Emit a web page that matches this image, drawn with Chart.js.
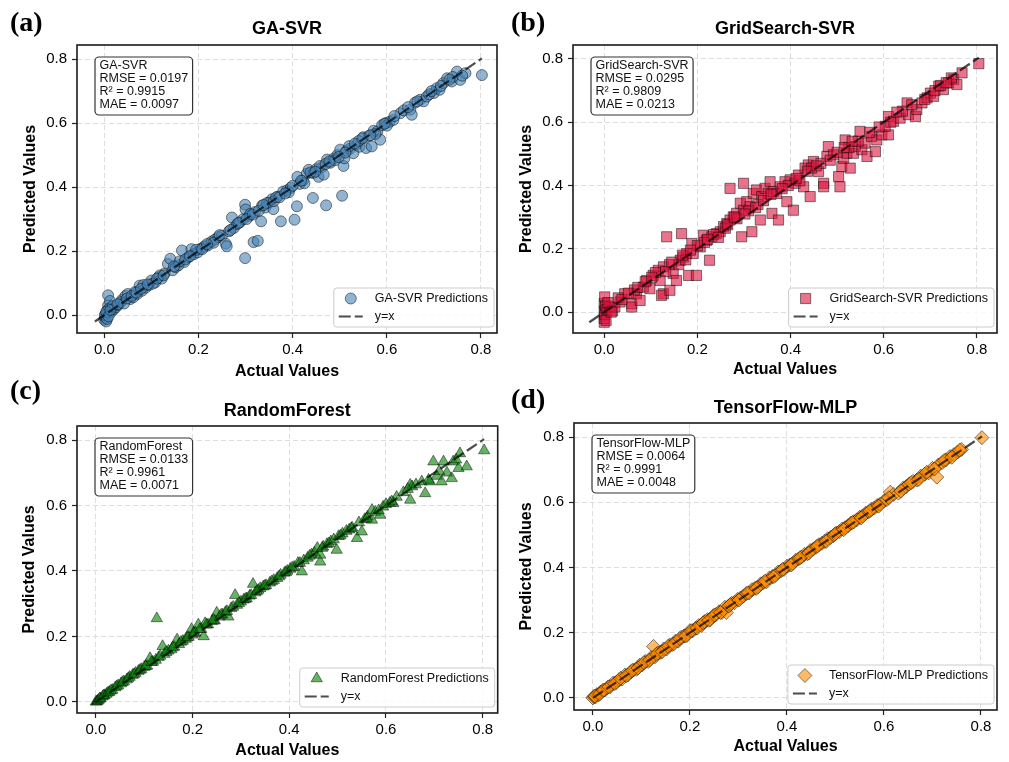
<!DOCTYPE html>
<html>
<head>
<meta charset="utf-8">
<script src="https://cdn.jsdelivr.net/npm/chart.js@4.4.1/dist/chart.umd.min.js"></script>
<style>
  body { margin: 0; background: #fff; }
  #wrap { position: relative; width: 1009px; height: 762px; overflow: hidden; }
  canvas { position: absolute; }
  .tag { position: absolute; font: bold 28px "Liberation Serif", "Times New Roman", serif; line-height: 28px; color: #000; }
</style>
</head>
<body>
<div id="wrap">
  <canvas id="c0" width="505" height="381" style="left:0;top:0"></canvas>
  <canvas id="c1" width="504" height="381" style="left:505px;top:0"></canvas>
  <canvas id="c2" width="505" height="381" style="left:0;top:381px"></canvas>
  <canvas id="c3" width="504" height="381" style="left:505px;top:381px"></canvas>
  <div class="tag" style="left:10px;top:8px">(a)</div>
  <div class="tag" style="left:511px;top:8px">(b)</div>
  <div class="tag" style="left:10px;top:376px">(c)</div>
  <div class="tag" style="left:511px;top:385px">(d)</div>
</div>
<script>
// model names + metrics shown in the boxes
var models = ["GA-SVR", "GridSearch-SVR", "RandomForest", "TensorFlow-MLP"];
var rmse = ["0.0197", "0.0295", "0.0133", "0.0064"];
var r2 = ["0.9915", "0.9809", "0.9961", "0.9991"];
var mae = ["0.0097", "0.0213", "0.0071", "0.0048"];

var tickValues = [0, 0.2, 0.4, 0.6, 0.8];
var tickLabels = ["0.0", "0.2", "0.4", "0.6", "0.8"];

// GA-SVR
var gaActual = [
  0.000,0.002,0.003,0.004,0.005,0.006,0.008,0.008,0.012,0.010,
  0.015,0.020,0.024,0.030,0.038,0.045,0.050,0.055,0.062,0.070,
  0.075,0.080,0.088,0.095,0.100,0.108,0.115,0.122,0.128,0.135,
  0.140,0.145,0.152,0.158,0.165,0.170,0.178,0.185,0.190,0.198,
  0.205,0.212,0.220,0.228,0.235,0.242,0.250,0.258,0.260,0.265,
  0.271,0.275,0.282,0.288,0.295,0.299,0.300,0.299,0.308,0.317,
  0.326,0.320,0.333,0.335,0.342,0.350,0.356,0.359,0.368,0.375,
  0.380,0.388,0.396,0.404,0.409,0.410,0.415,0.422,0.430,0.434,
  0.443,0.444,0.450,0.455,0.462,0.466,0.471,0.473,0.480,0.488,
  0.495,0.501,0.505,0.508,0.510,0.515,0.522,0.529,0.535,0.542,
  0.550,0.556,0.562,0.568,0.572,0.580,0.586,0.590,0.598,0.606,
  0.614,0.629,0.636,0.650,0.653,0.660,0.671,0.678,0.685,0.700,
  0.706,0.712,0.720,0.728,0.738,0.749,0.756,0.767,0.802,
  0.001,0.006,0.018,0.035,0.042,0.065,0.083,0.103,0.118,0.160,
  0.195,0.232,0.310,0.345,0.360,0.392,0.400,0.425,0.438,0.458,
  0.470,0.490,0.520,0.540,0.576,0.600,0.616,0.690,0.740,
  0.004,0.009,0.013,0.028,0.048,0.058,0.068,0.078,0.092,0.112,
  0.126,0.148,0.172,0.182,0.208,0.218,0.245,0.268,0.285,0.302,
  0.315,0.328,0.338,0.365,0.372,0.384,0.418,0.448,0.478,0.498,
  0.512,0.532,0.548,0.565,0.595,0.645,0.665,0.695,0.715,0.733,0.760
];
var gaPred = [
  -0.015,-0.008,0.002,-0.020,0.006,0.014,0.030,0.062,0.044,0.020,
  0.010,0.018,0.024,0.032,0.048,0.060,0.066,0.050,0.056,0.066,
  0.092,0.076,0.086,0.094,0.108,0.102,0.118,0.114,0.130,0.160,
  0.176,0.140,0.150,0.156,0.202,0.166,0.180,0.206,0.190,0.196,
  0.208,0.214,0.218,0.230,0.236,0.244,0.248,0.223,0.215,0.262,
  0.305,0.272,0.284,0.290,0.300,0.345,0.330,0.178,0.310,0.228,
  0.232,0.322,0.293,0.342,0.336,0.352,0.362,0.331,0.370,0.293,
  0.386,0.390,0.398,0.298,0.340,0.432,0.410,0.420,0.442,0.454,
  0.366,0.444,0.456,0.432,0.462,0.439,0.343,0.486,0.476,0.490,
  0.500,0.517,0.373,0.466,0.490,0.514,0.520,0.506,0.532,0.526,
  0.556,0.522,0.560,0.527,0.576,0.574,0.548,0.594,0.600,0.604,
  0.610,0.631,0.640,0.642,0.626,0.664,0.673,0.668,0.683,0.694,
  0.709,0.704,0.725,0.740,0.730,0.761,0.735,0.756,0.750,
  0.000,-0.012,0.028,0.040,0.036,0.072,0.094,0.098,0.124,0.168,
  0.204,0.226,0.316,0.350,0.356,0.384,0.404,0.412,0.446,0.466,
  0.472,0.484,0.528,0.544,0.566,0.592,0.622,0.690,0.744,
  0.010,-0.004,0.016,0.034,0.052,0.060,0.070,0.082,0.096,0.114,
  0.124,0.152,0.174,0.184,0.206,0.222,0.250,0.266,0.288,0.300,
  0.314,0.326,0.344,0.368,0.368,0.380,0.420,0.448,0.480,0.494,
  0.508,0.536,0.552,0.562,0.598,0.650,0.668,0.700,0.716,0.736,0.748
];

// GridSearch-SVR
var gsActual = [
  0.000,0.000,0.001,0.000,0.002,0.000,0.001,0.003,0.004,0.006,
  0.012,0.018,0.023,0.034,0.044,0.059,0.059,0.069,0.077,0.084,
  0.091,0.098,0.105,0.116,0.120,0.127,0.134,0.166,0.127,0.123,
  0.141,0.148,0.155,0.163,0.170,0.177,0.181,0.188,0.191,0.198,
  0.206,0.213,0.220,0.226,0.231,0.241,0.249,0.256,0.263,0.270,
  0.270,0.277,0.284,0.292,0.295,0.299,0.299,0.306,0.313,0.317,
  0.320,0.327,0.335,0.338,0.345,0.352,0.356,0.360,0.363,0.374,
  0.378,0.388,0.392,0.399,0.406,0.410,0.417,0.428,0.431,0.438,
  0.442,0.449,0.460,0.471,0.471,0.478,0.481,0.492,0.503,0.506,
  0.510,0.514,0.517,0.521,0.528,0.535,0.539,0.549,0.553,0.560,
  0.564,0.574,0.582,0.585,0.596,0.610,0.603,0.610,0.621,0.635,
  0.650,0.653,0.668,0.671,0.682,0.693,0.700,0.707,0.718,0.728,
  0.739,0.750,0.757,0.768,0.804,0.030,0.065,0.110,0.140,0.160,
  0.175,0.200,0.215,0.235,0.260,0.285,0.310,0.330,0.370,0.395,
  0.420,0.445,0.465,0.500,0.525,0.545,0.590,0.640,0.660,0.710,0.745,
  0.008,0.015,0.038,0.052,0.072,0.088,0.102,0.132,0.145,0.168,
  0.185,0.222,0.245,0.265,0.280,0.302,0.325,0.342,0.358,0.382,
  0.412,0.436,0.455,0.485,0.515,0.532,0.570,0.615,0.628,0.688,
  0.722,0.734
];
var gsPred = [
  -0.032,-0.020,-0.008,0.004,0.014,0.028,0.048,0.020,-0.026,0.008,
  0.016,0.004,0.016,0.032,0.058,0.026,0.016,0.058,0.037,0.079,
  0.100,0.074,0.116,0.132,0.100,0.143,0.238,0.248,0.058,0.053,
  0.069,0.122,0.100,0.164,0.174,0.185,0.116,0.217,0.185,0.116,
  0.206,0.243,0.227,0.164,0.238,0.248,0.254,0.270,0.280,0.291,
  0.391,0.301,0.312,0.344,0.238,0.407,0.322,0.349,0.333,0.254,
  0.375,0.386,0.291,0.365,0.391,0.375,0.412,0.312,0.381,0.291,
  0.396,0.412,0.349,0.418,0.322,0.407,0.433,0.396,0.455,0.465,
  0.365,0.476,0.444,0.407,0.396,0.492,0.523,0.497,0.428,0.396,
  0.460,0.486,0.544,0.502,0.455,0.502,0.523,0.571,0.513,0.534,
  0.492,0.555,0.507,0.544,0.560,0.560,0.587,0.618,0.603,0.613,
  0.661,0.624,0.618,0.640,0.661,0.677,0.692,0.682,0.714,0.703,
  0.724,0.735,0.719,0.756,0.785,0.045,0.070,0.125,0.150,0.150,
  0.165,0.210,0.220,0.245,0.265,0.295,0.320,0.340,0.375,0.400,
  0.415,0.455,0.470,0.505,0.520,0.540,0.585,0.635,0.655,0.700,0.740,
  0.030,0.000,0.040,0.060,0.078,0.096,0.110,0.128,0.158,0.180,
  0.196,0.230,0.236,0.276,0.300,0.310,0.330,0.352,0.372,0.390,
  0.422,0.445,0.462,0.480,0.520,0.540,0.568,0.600,0.632,0.672,
  0.716,0.725
];

// RandomForest
var rfActual = [
  0.000,0.002,0.004,0.006,0.010,0.014,0.018,0.022,0.028,0.034,
  0.040,0.046,0.052,0.058,0.064,0.070,0.076,0.082,0.088,0.094,
  0.100,0.106,0.112,0.118,0.124,0.126,0.130,0.138,0.142,0.150,
  0.156,0.162,0.168,0.172,0.180,0.186,0.192,0.198,0.200,0.206,
  0.212,0.218,0.223,0.226,0.232,0.240,0.246,0.250,0.256,0.262,
  0.268,0.274,0.280,0.288,0.292,0.300,0.306,0.312,0.318,0.325,
  0.330,0.336,0.340,0.346,0.352,0.360,0.368,0.375,0.382,0.390,
  0.396,0.402,0.410,0.418,0.426,0.430,0.438,0.446,0.452,0.458,
  0.464,0.464,0.470,0.478,0.486,0.492,0.498,0.502,0.510,0.518,
  0.524,0.530,0.540,0.544,0.550,0.556,0.562,0.571,0.571,0.578,
  0.588,0.594,0.600,0.608,0.615,0.622,0.636,0.650,0.650,0.654,
  0.662,0.674,0.681,0.691,0.698,0.705,0.715,0.719,0.726,0.736,
  0.739,0.750,0.753,0.767,0.803,
  0.008,0.016,0.025,0.031,0.043,0.055,0.067,0.079,0.091,0.103,
  0.115,0.133,0.146,0.159,0.176,0.189,0.203,0.215,0.229,0.243,
  0.259,0.271,0.284,0.296,0.309,0.321,0.333,0.349,0.364,0.379,
  0.393,0.406,0.422,0.442,0.468,0.482,0.506,0.528,0.560,0.585,
  0.612,0.645,0.688,0.710,0.745
];
var rfPred = [
  0.000,0.001,0.003,0.006,0.010,0.016,0.020,0.024,0.030,0.036,
  0.044,0.050,0.056,0.062,0.068,0.076,0.082,0.088,0.094,0.100,
  0.106,0.110,0.133,0.122,0.128,0.255,0.136,0.170,0.146,0.156,
  0.160,0.168,0.190,0.176,0.186,0.192,0.198,0.222,0.205,0.212,
  0.236,0.222,0.200,0.240,0.236,0.246,0.248,0.272,0.260,0.266,
  0.274,0.260,0.286,0.326,0.296,0.306,0.312,0.316,0.324,0.360,
  0.334,0.342,0.347,0.352,0.356,0.364,0.372,0.378,0.388,0.394,
  0.400,0.406,0.412,0.424,0.398,0.432,0.440,0.450,0.456,0.470,
  0.428,0.449,0.474,0.482,0.490,0.496,0.464,0.506,0.514,0.522,
  0.526,0.532,0.500,0.548,0.520,0.558,0.566,0.586,0.556,0.580,
  0.571,0.596,0.604,0.608,0.607,0.626,0.640,0.663,0.617,0.658,
  0.664,0.673,0.637,0.673,0.734,0.690,0.673,0.734,0.700,0.683,
  0.734,0.714,0.759,0.719,0.768,
  0.010,0.019,0.028,0.034,0.047,0.060,0.072,0.084,0.097,0.109,
  0.121,0.140,0.152,0.166,0.183,0.196,0.210,0.222,0.236,0.250,
  0.266,0.277,0.290,0.301,0.314,0.326,0.338,0.354,0.368,0.383,
  0.396,0.410,0.424,0.446,0.470,0.484,0.508,0.530,0.560,0.585,
  0.612,0.650,0.678,0.705,0.740
];

// TensorFlow-MLP
var mlpActual = [
  0.000,0.002,0.005,0.008,0.012,0.016,0.020,0.025,0.030,0.036,
  0.042,0.048,0.054,0.060,0.066,0.072,0.078,0.084,0.090,0.096,
  0.102,0.108,0.114,0.120,0.125,0.128,0.134,0.140,0.146,0.152,
  0.158,0.164,0.170,0.176,0.182,0.188,0.194,0.200,0.206,0.212,
  0.218,0.224,0.230,0.236,0.242,0.248,0.254,0.260,0.266,0.272,
  0.275,0.280,0.286,0.292,0.298,0.304,0.310,0.316,0.322,0.328,
  0.334,0.340,0.346,0.352,0.358,0.364,0.370,0.376,0.382,0.388,
  0.394,0.400,0.406,0.412,0.418,0.424,0.430,0.436,0.442,0.448,
  0.454,0.460,0.466,0.472,0.478,0.484,0.490,0.496,0.502,0.508,
  0.514,0.520,0.526,0.532,0.538,0.544,0.550,0.556,0.562,0.568,
  0.574,0.580,0.586,0.592,0.600,0.606,0.613,0.620,0.630,0.640,
  0.646,0.652,0.660,0.668,0.676,0.684,0.692,0.700,0.709,0.712,
  0.720,0.728,0.736,0.744,0.752,0.760,0.802,
  0.004,0.014,0.022,0.033,0.045,0.057,0.069,0.081,0.093,0.105,
  0.117,0.131,0.143,0.155,0.167,0.179,0.191,0.203,0.215,0.227,
  0.239,0.251,0.263,0.283,0.301,0.319,0.337,0.355,0.373,0.391,
  0.409,0.427,0.445,0.463,0.481,0.499,
  0.517,0.535,0.553,0.571,0.589,0.610,0.635,0.656,0.672,0.688,
  0.704,0.724,0.740,0.756
];
var mlpPred = [
  0.000,0.004,0.003,0.010,0.010,0.018,0.022,0.024,0.032,0.035,
  0.046,0.047,0.056,0.058,0.070,0.070,0.080,0.086,0.088,0.100,
  0.102,0.112,0.112,0.124,0.158,0.126,0.138,0.140,0.150,0.150,
  0.162,0.164,0.174,0.174,0.186,0.190,0.192,0.206,0.206,0.214,
  0.222,0.222,0.234,0.240,0.240,0.252,0.256,0.264,0.262,0.278,
  0.262,0.282,0.290,0.292,0.302,0.306,0.312,0.320,0.322,0.332,
  0.336,0.340,0.350,0.354,0.356,0.368,0.372,0.376,0.386,0.390,
  0.394,0.404,0.408,0.412,0.422,0.426,0.432,0.440,0.442,0.452,
  0.456,0.462,0.470,0.474,0.480,0.488,0.492,0.498,0.506,0.510,
  0.518,0.522,0.528,0.536,0.540,0.546,0.554,0.558,0.566,0.570,
  0.578,0.582,0.590,0.594,0.604,0.608,0.631,0.624,0.628,0.644,
  0.648,0.656,0.664,0.668,0.680,0.686,0.690,0.704,0.677,0.714,
  0.722,0.730,0.740,0.746,0.754,0.762,0.798,
  0.006,0.012,0.024,0.034,0.044,0.060,0.068,0.084,0.092,0.108,
  0.116,0.134,0.142,0.158,0.166,0.182,0.190,0.206,0.214,0.230,
  0.238,0.254,0.262,0.286,0.300,0.322,0.336,0.358,0.372,0.394,
  0.408,0.430,0.444,0.466,0.480,0.502,
  0.516,0.538,0.552,0.574,0.588,0.614,0.634,0.660,0.670,0.692,
  0.702,0.728,0.738,0.760
];

// layout / style per panel
var panels = [
  { id: "c0", actual: gaActual, pred: gaPred, rgb: "70,130,180", shape: "circle", r: 5.5,
    left: 77, padRight: 8, xh: 48, titlePad: [18.7, 4.7], yTitlePad: 20.9, xTitlePad: 0,
    xr: [-0.058, 0.834], yr: [-0.056, 0.844] },
  { id: "c1", actual: gsActual, pred: gsPred, rgb: "220,20,60", shape: "rect", r: 7.2,
    left: 68, padRight: 12, xh: 48, titlePad: [18.2, 5.2], yTitlePad: 12.4, xTitlePad: 1.4,
    xr: [-0.067, 0.843], yr: [-0.066, 0.844] },
  { id: "c2", actual: rfActual, pred: rfPred, rgb: "0,128,0", shape: "triangle", r: 6.5,
    left: 77, padRight: 7, xh: 49, titlePad: [19.2, 4.2], yTitlePad: 20.4, xTitlePad: 1.4,
    xr: [-0.039, 0.831], yr: [-0.034, 0.843] },
  { id: "c3", actual: mlpActual, pred: mlpPred, rgb: "255,140,0", shape: "rectRot", r: 7,
    left: 69, padRight: 12, xh: 52, titlePad: [16.2, 4.2], yTitlePad: 12.4, xTitlePad: 5.4,
    xr: [-0.039, 0.833], yr: [-0.037, 0.843] }
];

var FONT = '"Liberation Sans", Arial, Helvetica, sans-serif';
Chart.defaults.font.family = FONT;
Chart.defaults.color = "#000";

// frame, metrics box and legend drawn inside the plot area
var extras = {
  id: "extras",
  afterDatasetsDraw: function (chart, args, o) {
    var ctx = chart.ctx, a = chart.chartArea;
    ctx.save();
    ctx.strokeStyle = "#1a1a1a";
    ctx.lineWidth = 1.6;
    ctx.strokeRect(a.left, a.top, a.right - a.left, a.bottom - a.top);

    ctx.font = "12.5px " + FONT;
    ctx.textBaseline = "middle";
    ctx.textAlign = "left";
    var w = 0;
    o.stats.forEach(function (l) { w = Math.max(w, ctx.measureText(l).width); });
    var bx = a.left + 18, by = a.top + 12, bw = w + 9, bh = o.stats.length * 13 + 6;
    ctx.beginPath();
    ctx.roundRect(bx, by, bw, bh, 4);
    ctx.fillStyle = "rgba(255,255,255,0.85)";
    ctx.fill();
    ctx.strokeStyle = "#333";
    ctx.lineWidth = 1.2;
    ctx.stroke();
    ctx.fillStyle = "#111";
    o.stats.forEach(function (l, i) { ctx.fillText(l, bx + 4.5, by + 8.5 + i * 13); });

    var lw = ctx.measureText(o.label).width;
    var lbw = 41 + lw + 6, lbh = 39;
    var lx = a.right - 3 - lbw, ly = a.bottom - 6 - lbh;
    ctx.beginPath();
    ctx.roundRect(lx, ly, lbw, lbh, 3);
    ctx.fillStyle = "rgba(255,255,255,0.8)";
    ctx.fill();
    ctx.strokeStyle = "#cccccc";
    ctx.lineWidth = 1;
    ctx.stroke();

    ctx.fillStyle = "rgba(" + o.rgb + ",0.6)";
    ctx.strokeStyle = "rgba(0,0,0,0.6)";
    ctx.lineWidth = 0.8;
    Chart.helpers.drawPoint(ctx, { pointStyle: o.shape, radius: o.r, borderWidth: 0.8, rotation: 0 }, lx + 17, ly + 10.5);

    ctx.beginPath();
    ctx.setLineDash([12, 4]);
    ctx.strokeStyle = "rgba(0,0,0,0.7)";
    ctx.lineWidth = 2.2;
    ctx.moveTo(lx + 5, ly + 28.5);
    ctx.lineTo(lx + 29, ly + 28.5);
    ctx.stroke();
    ctx.setLineDash([]);

    ctx.fillStyle = "#111";
    ctx.fillText(o.label, lx + 41, ly + 10.5);
    ctx.fillText("y=x", lx + 41, ly + 28.5);
    ctx.restore();
  }
};

function axis(p, isX) {
  return {
    type: "linear",
    position: isX ? "bottom" : "left",
    min: isX ? p.xr[0] : p.yr[0],
    max: isX ? p.xr[1] : p.yr[1],
    afterBuildTicks: function (s) {
      s.ticks = tickValues.map(function (v) { return { value: v }; });
    },
    afterFit: function (s) {
      if (isX) s.height = p.xh; else s.width = p.left;
    },
    ticks: {
      callback: function (v, i) { return tickLabels[i]; },
      font: { size: 15 },
      color: "#000",
      padding: isX ? 3 : 5,
      autoSkip: false,
      maxRotation: 0
    },
    grid: { color: "#dedede", lineWidth: 1, tickLength: 5, tickColor: "#222", tickWidth: 1.2 },
    border: { display: false, dash: [5, 3] },
    title: {
      display: true,
      text: isX ? "Actual Values" : "Predicted Values",
      font: { size: 16, weight: "bold" },
      color: "#000",
      padding: isX ? { top: 0, bottom: p.xTitlePad } : { top: p.yTitlePad, bottom: 0 }
    }
  };
}

panels.forEach(function (p, k) {
  var pts = p.actual.map(function (x, i) { return { x: x, y: p.pred[i] }; });
  var all = p.actual.concat(p.pred);
  var lo = Math.min.apply(null, all), hi = Math.max.apply(null, all);

  new Chart(document.getElementById(p.id), {
    type: "scatter",
    data: {
      datasets: [
        {
          label: "y=x",
          data: [{ x: lo, y: lo }, { x: hi, y: hi }],
          showLine: true,
          borderColor: "rgba(0,0,0,0.7)",
          borderWidth: 2.2,
          borderDash: [12, 4],
          pointRadius: 0,
          order: 0
        },
        {
          label: models[k] + " Predictions",
          data: pts,
          pointStyle: p.shape,
          pointRadius: p.r,
          backgroundColor: "rgba(" + p.rgb + ",0.6)",
          borderColor: "rgba(0,0,0,0.6)",
          borderWidth: 0.8,
          order: 1
        }
      ]
    },
    options: {
      responsive: false,
      animation: false,
      devicePixelRatio: 1,
      events: [],
      layout: { padding: { left: 0, right: p.padRight, top: 0, bottom: 0 } },
      scales: { x: axis(p, true), y: axis(p, false) },
      plugins: {
        legend: { display: false },
        tooltip: { enabled: false },
        title: {
          display: true,
          text: models[k],
          fullSize: false,
          font: { size: 18, weight: "bold" },
          color: "#000",
          padding: { top: p.titlePad[0], bottom: p.titlePad[1] }
        },
        extras: {
          stats: [models[k], "RMSE = " + rmse[k], "R\u00b2 = " + r2[k], "MAE = " + mae[k]],
          label: models[k] + " Predictions",
          rgb: p.rgb, shape: p.shape, r: p.r
        }
      }
    },
    plugins: [extras]
  });
});
</script>
</body>
</html>
